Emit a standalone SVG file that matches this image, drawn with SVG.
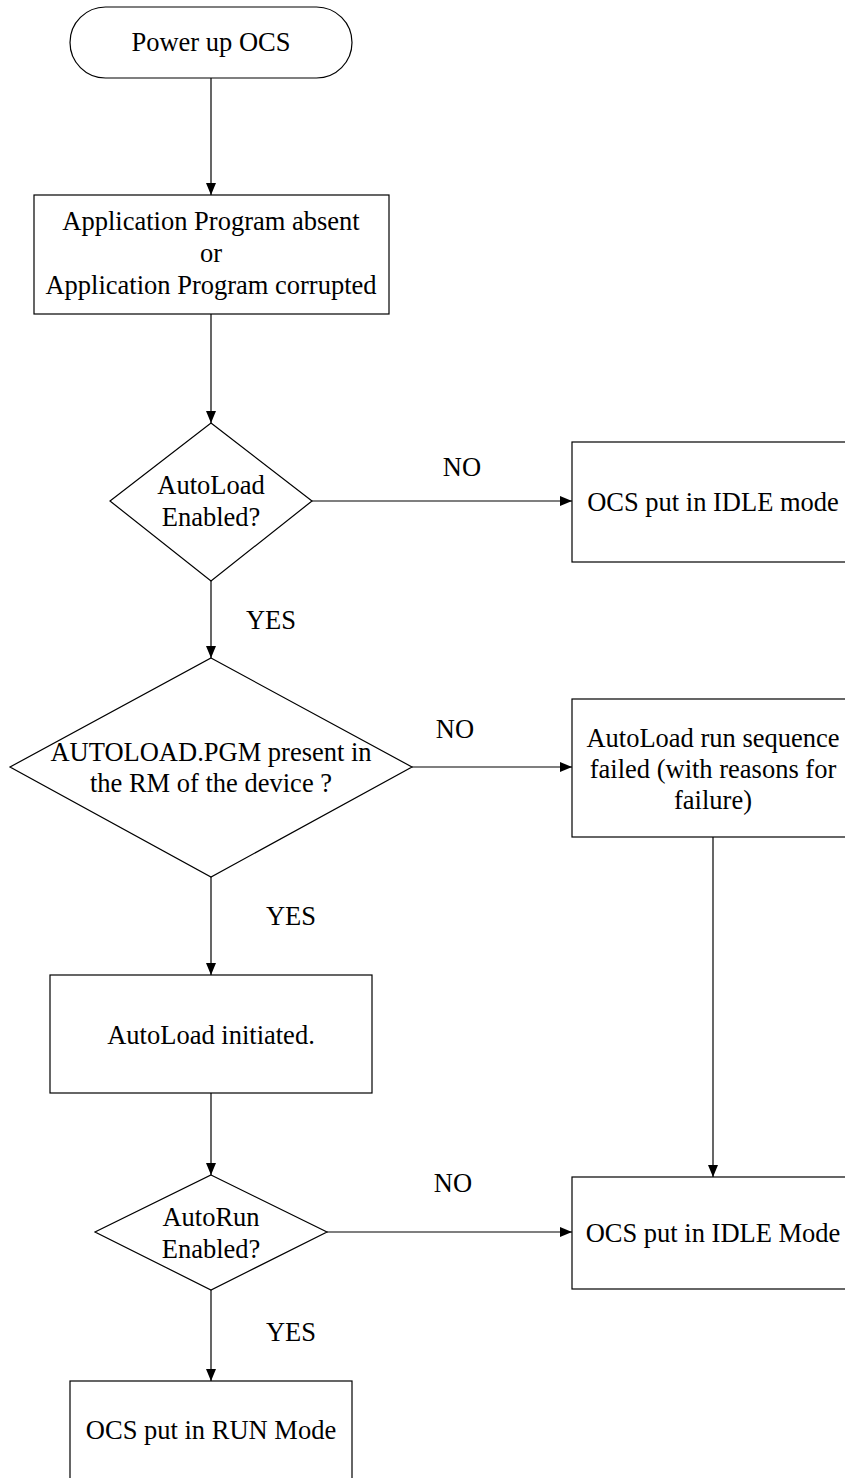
<svg xmlns="http://www.w3.org/2000/svg" width="845" height="1478" viewBox="0 0 845 1478">
<defs>
<marker id="arr" viewBox="0 0 12 12" refX="12" refY="6" markerWidth="12" markerHeight="12" markerUnits="userSpaceOnUse" orient="auto">
<path d="M0,1 L12,6 L0,11 z" fill="#000"/>
</marker>
<style>
.s{fill:#fff;stroke:#000;stroke-width:1.2}
.t{font-family:"Liberation Serif","Times New Roman",serif;font-size:26.5px;fill:#000;text-anchor:middle}
.c{fill:none;stroke:#000;stroke-width:1.2;marker-end:url(#arr)}
</style>
</defs>
<rect width="845" height="1478" fill="#fff"/>
<g id="connectors">
<line class="c" x1="211" y1="78" x2="211" y2="195"/>
<line class="c" x1="211" y1="314" x2="211" y2="423"/>
<line class="c" x1="312" y1="501" x2="572" y2="501"/>
<line class="c" x1="211" y1="581" x2="211" y2="658"/>
<line class="c" x1="412" y1="767" x2="572" y2="767"/>
<line class="c" x1="713" y1="837" x2="713" y2="1177"/>
<line class="c" x1="211" y1="877" x2="211" y2="975"/>
<line class="c" x1="211" y1="1093" x2="211" y2="1175"/>
<line class="c" x1="327" y1="1232" x2="572" y2="1232"/>
<line class="c" x1="211" y1="1290" x2="211" y2="1381"/>
<text class="t" x="462" y="476">NO</text>
<text class="t" x="271" y="629">YES</text>
<text class="t" x="455" y="738">NO</text>
<text class="t" x="291" y="925">YES</text>
<text class="t" x="453" y="1192">NO</text>
<text class="t" x="291" y="1341">YES</text>
</g>
<g id="start">
<rect class="s" x="70" y="7" width="282" height="71" rx="35.5" ry="35.5"/>
<text class="t" x="211" y="51">Power up OCS</text>
</g>
<g id="absent">
<rect class="s" x="34" y="195" width="355" height="119"/>
<text class="t" x="211" y="230">Application Program absent</text>
<text class="t" x="211" y="262">or</text>
<text class="t" x="211" y="294">Application Program corrupted</text>
</g>
<g id="autoload-enabled">
<polygon class="s" points="211,423 312,501 211,581 110,501"/>
<text class="t" x="211" y="494">AutoLoad</text>
<text class="t" x="211" y="526">Enabled?</text>
</g>
<g id="idle1">
<rect class="s" x="572" y="442" width="290" height="120"/>
<text class="t" x="713" y="511">OCS put in IDLE mode</text>
</g>
<g id="pgm-present">
<polygon class="s" points="211,658 412,767 211,877 10,767"/>
<text class="t" x="211" y="761">AUTOLOAD.PGM present in</text>
<text class="t" x="211" y="792">the RM of the device ?</text>
</g>
<g id="failed">
<rect class="s" x="572" y="699" width="290" height="138"/>
<text class="t" x="713" y="747">AutoLoad run sequence</text>
<text class="t" x="713" y="778">failed (with reasons for</text>
<text class="t" x="713" y="809">failure)</text>
</g>
<g id="initiated">
<rect class="s" x="50" y="975" width="322" height="118"/>
<text class="t" x="211" y="1044">AutoLoad initiated.</text>
</g>
<g id="autorun-enabled">
<polygon class="s" points="211,1175 327,1232 211,1290 95,1232"/>
<text class="t" x="211" y="1226">AutoRun</text>
<text class="t" x="211" y="1258">Enabled?</text>
</g>
<g id="idle2">
<rect class="s" x="572" y="1177" width="290" height="112"/>
<text class="t" x="713" y="1242">OCS put in IDLE Mode</text>
</g>
<g id="run">
<rect class="s" x="70" y="1381" width="282" height="110"/>
<text class="t" x="211" y="1439">OCS put in RUN Mode</text>
</g>
</svg>
